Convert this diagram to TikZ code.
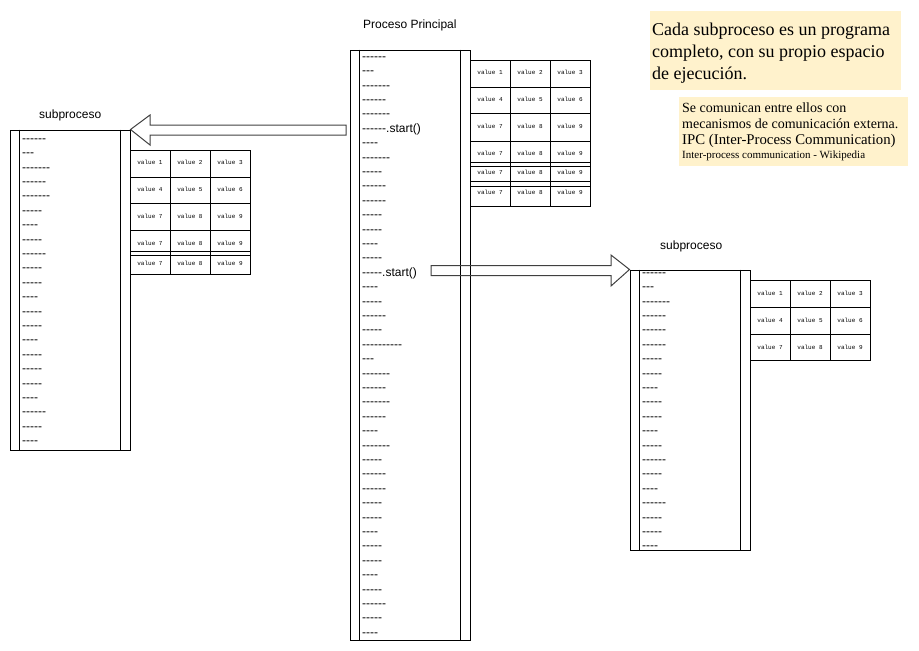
\documentclass[tikz,border=0pt]{standalone}
\usepackage{fontspec}
\setmainfont{Liberation Sans}
\newfontfamily\notefont{Liberation Serif}
\newfontfamily\cellfont{Liberation Mono}
\ExplSyntaxOn
\cs_new:Npn \mydashes #1 { \prg_replicate:nn {#1} { -\kern0pt } }
\ExplSyntaxOff
\definecolor{notebg}{HTML}{FFF2CC}
\tikzset{
  item/.style={anchor=base west, inner sep=0pt, font=\fontsize{12}{14}\selectfont},
  ttl/.style={anchor=base west, inner sep=0pt, font=\fontsize{12}{14}\selectfont},
  cell/.style={inner sep=0pt, font=\cellfont\fontsize{6}{7}\selectfont},
  colbox/.style={draw=black, line width=1pt, inner sep=0pt, fill=none},
  grid/.style={draw=black, line width=1pt},
  blockarrow/.style={draw=black!75, line width=1pt, line join=miter},
  notebox/.style={fill=notebg, draw=none, inner sep=0pt},
  noteline/.style={anchor=base west, inner sep=0pt}
}
\begin{document}
\begin{tikzpicture}[x=1pt,y=-1pt]
\useasboundingbox (0,0) rectangle (919,651);

% titles
\node[ttl] (tmain) at (363,28) {Proceso Principal};
\node[ttl] (tsub1) at (39,118.5) {subproceso};
\node[ttl] (tsub2) at (660,249) {subproceso};

% columns
\node[colbox, minimum width=120pt, minimum height=590pt] (main) at (410,345) {};
\node[colbox, minimum width=120pt, minimum height=320pt] (sub1) at (70,290) {};
\node[colbox, minimum width=120pt, minimum height=280pt] (sub2) at (690,410) {};
\foreach \c in {main,sub1,sub2}{
  \draw[grid] ([xshift=10pt]\c.north west) -- ([xshift=10pt]\c.south west);
  \draw[grid] ([xshift=-10pt]\c.north east) -- ([xshift=-10pt]\c.south east);
}

% main list
\foreach \n/\s [count=\i from 0] in {6/,3/,7/,6/,7/,6/.start(),4/,7/,5/,6/,6/,5/,5/,4/,5/,5/.start(),4/,5/,6/,5/,10/,3/,7/,6/,7/,6/,4/,7/,5/,6/,6/,5/,5/,4/,5/,5/,4/,5/,6/,5/,4/}
  \node[item] (m\i) at (362,57+14.4*\i+3.3) {\mydashes{\n}\s};
% left list
\foreach \n [count=\i from 0] in {6,3,7,6,7,5,4,5,6,5,5,4,5,5,4,5,5,5,4,6,5,4}
  \node[item] (l\i) at (22,139+14.4*\i+3.3) {\mydashes{\n}};
% right list
\foreach \n [count=\i from 0] in {6,3,7,6,6,6,5,5,4,5,5,4,5,6,5,4,6,5,5,4}
  \node[item] (r\i) at (642,273+14.4*\i+3.3) {\mydashes{\n}};

% main table
\draw[grid] (470,60) rectangle (590,206);
\foreach \x in {510,550} \draw[grid] (\x,60) -- (\x,206);
\foreach \y in {87,113,141,162,166,181,186} \draw[grid] (470,\y) -- (590,\y);
\foreach \y/\a/\b/\c [count=\r] in {72/1/2/3,99/4/5/6,126/7/8/9,153/7/8/9,172/7/8/9,192/7/8/9}{
  \node[cell] (mt\r a) at (490,\y) {value \a};
  \node[cell] (mt\r b) at (530,\y) {value \b};
  \node[cell] (mt\r c) at (570,\y) {value \c};
}

% left table
\draw[grid] (130,150) rectangle (250,274);
\foreach \x in {170,210} \draw[grid] (\x,150) -- (\x,274);
\foreach \y in {177,203,230,251,255} \draw[grid] (130,\y) -- (250,\y);
\foreach \y/\a/\b/\c [count=\r] in {162/1/2/3,189/4/5/6,216/7/8/9,243/7/8/9,263/7/8/9}{
  \node[cell] (lt\r a) at (150,\y) {value \a};
  \node[cell] (lt\r b) at (190,\y) {value \b};
  \node[cell] (lt\r c) at (230,\y) {value \c};
}

% right table
\draw[grid] (750,280) rectangle (870,360);
\foreach \x in {790,830} \draw[grid] (\x,280) -- (\x,360);
\foreach \y in {307,334} \draw[grid] (750,\y) -- (870,\y);
\foreach \y/\a/\b/\c [count=\r] in {293/1/2/3,320/4/5/6,347/7/8/9}{
  \node[cell] (rt\r a) at (770,\y) {value \a};
  \node[cell] (rt\r b) at (810,\y) {value \b};
  \node[cell] (rt\r c) at (850,\y) {value \c};
}

% block arrows
\coordinate (a1tip) at (sub1.north east);
\coordinate (a1end) at (346,130);
\draw[blockarrow] (a1tip) -- (150,115) -- (150,125) -- (a1end |- 0,125) -- (a1end |- 0,135) -- (150,135) -- (150,145) -- cycle;
\coordinate (a2tip) at (sub2.north west);
\coordinate (a2start) at (431,270.5);
\draw[blockarrow] (a2start |- 0,265.5) -- (611,265.5) -- (611,255) -- (a2tip) -- (611,286) -- (611,275.5) -- (a2start |- 0,275.5) -- cycle;

% notes
\node[notebox, minimum width=251pt, minimum height=79pt, anchor=north west] (note1) at (650,11) {};
\node[noteline, font=\notefont\fontsize{18}{22}\selectfont] (n1a) at (652,35) {Cada subproceso es un programa};
\node[noteline, font=\notefont\fontsize{18}{22}\selectfont] (n1b) at (652,57) {completo, con su propio espacio};
\node[noteline, font=\notefont\fontsize{18}{22}\selectfont] (n1c) at (652,79) {de ejecución.};

\node[notebox, minimum width=229pt, minimum height=69pt, anchor=north west] (note2) at (679,97) {};
\node[noteline, font=\notefont\fontsize{14}{16}\selectfont] (n2a) at (682,112) {Se comunican entre ellos con};
\node[noteline, font=\notefont\fontsize{14}{16}\selectfont] (n2b) at (682,128) {mecanismos de comunicación externa.};
\node[noteline, font=\notefont\fontsize{14.8}{16}\selectfont] (n2c) at (682,144) {IPC (Inter-Process Communication)};
\node[noteline, font=\notefont\fontsize{11}{12}\selectfont] (n2d) at (682,158) {Inter-process communication - Wikipedia};
\end{tikzpicture}
\end{document}
